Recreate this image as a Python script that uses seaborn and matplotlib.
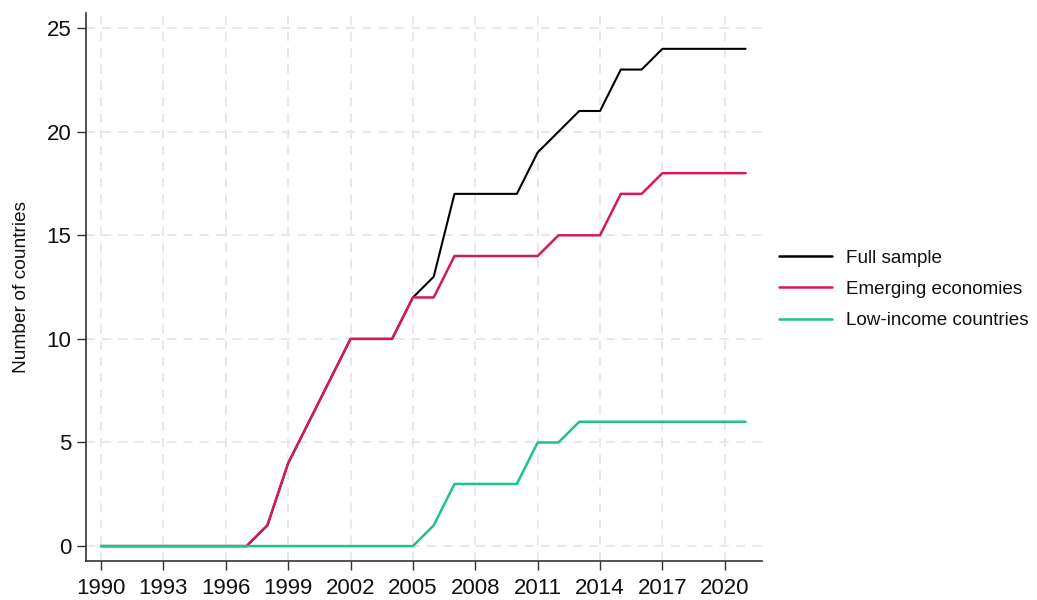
import pandas as pd
import matplotlib
matplotlib.use("Agg")
import matplotlib.pyplot as plt
import seaborn as sns

# Dados
years = list(range(1990, 2022))
full_sample = [0, 0, 0, 0, 0, 0, 0, 0, 1, 4, 6, 8, 10, 10, 10, 12, 13, 17, 17, 17,
               17, 19, 20, 21, 21, 23, 23, 24, 24, 24, 24, 24]
emerging = [0, 0, 0, 0, 0, 0, 0, 0, 1, 4, 6, 8, 10, 10, 10, 12, 12, 14, 14, 14,
            14, 14, 15, 15, 15, 17, 17, 18, 18, 18, 18, 18]
low_income = [0, 0, 0, 0, 0, 0, 0, 0, 0, 0, 0, 0, 0, 0, 0, 0, 1, 3, 3, 3,
              3, 5, 5, 6, 6, 6, 6, 6, 6, 6, 6, 6]
series_names = ['Full sample', 'Emerging economies', 'Low-income countries']
x_ticks = list(range(1990, 2021, 3))
y_ticks = [0, 5, 10, 15, 20, 25]

df = pd.DataFrame({'Ano': years, series_names[0]: full_sample,
                   series_names[1]: emerging, series_names[2]: low_income})
df_long = df.melt(id_vars='Ano', var_name='Grupo', value_name='Valor')

# Estilo
sns.set_style("white")
plt.rcParams['font.family'] = ['Liberation Sans', 'DejaVu Sans']

fig, ax = plt.subplots(figsize=(10.37, 6), dpi=100)
fig.subplots_adjust(left=0.083, right=0.735, top=0.978, bottom=0.065)

cores = {'Full sample': '#000000', 'Emerging economies': '#D41B5A',
         'Low-income countries': '#1DC38B'}
sns.lineplot(data=df_long, x='Ano', y='Valor', hue='Grupo', palette=cores,
             hue_order=series_names, linewidth=1.8, ax=ax)
# linha preta um pouco mais fina para não vazar por baixo da rosa
ax.lines[0].set_linewidth(1.5)

ax.set_xlim(1989.28, 2021.8)
ax.set_ylim(-0.72, 25.72)
ax.set_xticks(x_ticks)
ax.set_yticks(y_ticks)
ax.tick_params(axis='both', labelsize=16, direction='out', length=6.5, width=1,
               bottom=True, left=True, color='#333333', labelcolor='#111111')
ax.tick_params(axis='x', pad=6)
ax.tick_params(axis='y', pad=4)
ax.grid(True, linestyle=(0, (5, 4)), color='#E6E6E6', linewidth=1.3)
ax.set_axisbelow(True)
sns.despine(ax=ax)
for s in ['left', 'bottom']:
    ax.spines[s].set_color('#333333')
    ax.spines[s].set_linewidth(1.2)

ax.set_xlabel('')
ax.set_ylabel('Number of countries', fontsize=13.8, labelpad=12, color='#111111')

leg = ax.legend(loc='center left', bbox_to_anchor=(1.0, 0.496), frameon=False,
                fontsize=13.6, handlelength=2.8, handletextpad=0.75,
                labelspacing=0.75)
for t in leg.get_texts():
    t.set_color('#111111')
for h in leg.get_lines():
    h.set_linewidth(1.8)

plt.savefig('out.png', dpi=100)
